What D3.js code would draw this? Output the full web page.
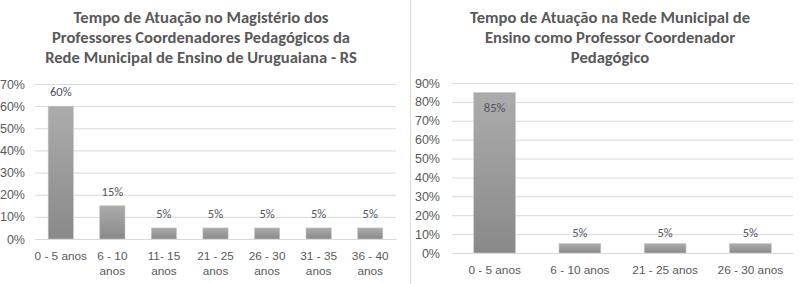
<!DOCTYPE html>
<html><head><meta charset="utf-8">
<script src="https://cdn.jsdelivr.net/npm/d3@7"></script>
<style>
body{margin:0;background:#fff;}
svg{display:block;font-family:Carlito,Lato,"Open Sans",sans-serif;}
</style></head>
<body><svg id="c" width="800" height="284"></svg>
<script>
// Chart 1
const title1 = ["Tempo de Atuação no Magistério dos","Professores Coordenadores Pedagógicos da","Rede Municipal de Ensino de Uruguaiana - RS"];
const categories1 = ["0 - 5 anos","6 - 10\nanos","11- 15\nanos","21 - 25\nanos","26 - 30\nanos","31 - 35\nanos","36 - 40\nanos"];
const values1 = [0.60,0.15,0.05,0.05,0.05,0.05,0.05];
const ticks1 = [0,0.1,0.2,0.3,0.4,0.5,0.6,0.7];
// Chart 2
const title2 = ["Tempo de Atuação na Rede Municipal de","Ensino como Professor Coordenador","Pedagógico"];
const categories2 = ["0 - 5 anos","6 - 10 anos","21 - 25 anos","26 - 30 anos"];
const values2 = [0.85,0.05,0.05,0.05];
const ticks2 = [0,0.1,0.2,0.3,0.4,0.5,0.6,0.7,0.8,0.9];

const svg = d3.select("#c");
const defs = svg.append("defs");
const grad = defs.append("linearGradient").attr("id","barGrad").attr("x1",0).attr("y1",0).attr("x2",0).attr("y2",1);
grad.append("stop").attr("offset","0%").attr("stop-color","#acacac");
grad.append("stop").attr("offset","100%").attr("stop-color","#898989");

const textColor = "#595959";
const fmt = d3.format(".0%");

// separator line
svg.append("line").attr("x1",410.5).attr("x2",410.5).attr("y1",0).attr("y2",284)
  .attr("stroke","#d9d9d9").attr("stroke-width",1);

function drawChart(cfg){
  const g = svg.append("g");
  const y = d3.scaleLinear().domain([0, d3.max(cfg.ticks)]).range([cfg.y0, cfg.y1]);
  const x = d3.scaleBand().domain(cfg.categories).range([cfg.x0, cfg.x1]).paddingInner(0.51).paddingOuter(0.255);

  // title
  const t = g.append("text").attr("text-anchor","middle").attr("fill",textColor)
    .attr("font-weight","bold").attr("font-size",cfg.titleSize);
  cfg.title.forEach((line,i)=>{
    t.append("tspan").attr("x",cfg.titleX).attr("y",23 + i*20).text(line);
  });

  // y axis (gridlines + labels)
  const yAxis = d3.axisLeft(y).tickValues(cfg.ticks).tickFormat(fmt)
    .tickSize(-(cfg.x1 - cfg.x0)).tickPadding(cfg.labelGap);
  const ya = g.append("g").attr("transform",`translate(${cfg.x0},0)`).call(yAxis);
  ya.select(".domain").remove();
  ya.selectAll(".tick line").attr("stroke","#d9d9d9").attr("stroke-width",1);
  ya.selectAll(".tick text").attr("fill",textColor).attr("font-size",12.5).attr("font-family",null);

  // bars
  g.selectAll("rect.bar").data(cfg.values).enter().append("rect").attr("class","bar")
    .attr("x",(d,i)=>x(cfg.categories[i]))
    .attr("width",x.bandwidth())
    .attr("y",d=>y(d))
    .attr("height",d=>y(0)-y(d))
    .attr("fill","url(#barGrad)")
    .attr("stroke","#c8c8c8").attr("stroke-width",0.6);

  // data labels
  g.selectAll("text.dl").data(cfg.values).enter().append("text").attr("class","dl")
    .attr("x",(d,i)=>x(cfg.categories[i]) + x.bandwidth()/2)
    .attr("y",d=> cfg.inside && cfg.inside(d) ? y(d)+20 : y(d)-cfg.labelOff)
    .attr("text-anchor","middle").attr("fill","#50555f").attr("font-size",12.5)
    .text(d=>fmt(d));

  // x axis labels
  const xAxis = d3.axisBottom(x).tickSize(0).tickPadding(0);
  const xa = g.append("g").attr("transform",`translate(0,${cfg.y0})`).call(xAxis);
  xa.select(".domain").attr("stroke","#d9d9d9");
  xa.selectAll(".tick text").each(function(d){
    const el = d3.select(this);
    el.text(null).attr("fill",textColor).attr("font-size",11.8).attr("font-family",null).attr("dy",null).attr("y",0);
    d.split("\n").forEach((line,i)=>{
      el.append("tspan").attr("x",0).attr("y",21 + i*15).text(line);
    });
  });
}

drawChart({title:title1, titleX:201, titleSize:16.6, categories:categories1, values:values1, ticks:ticks1,
  x0:35, x1:396, y0:239, y1:84, labelGap:10, labelOff:10});
drawChart({title:title2, titleX:610, titleSize:16.6, categories:categories2, values:values2, ticks:ticks2,
  x0:452, x1:793, y0:253, y1:83, labelGap:12, labelOff:7, inside:d=>d>0.8});
</script></body></html>
